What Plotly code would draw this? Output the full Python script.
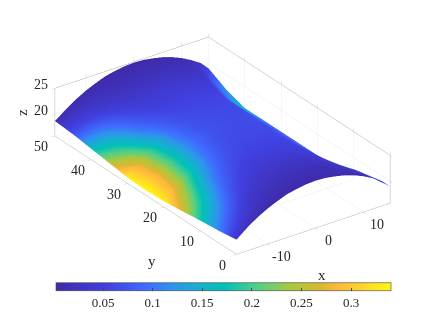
import plotly.graph_objects as go

x_vals = [-16.5,-14,-12,-10,-8,-6,-4,-2,0,2,4,6,8,10,12,14,15.6]
y_vals = [0,5,10,15,20,25,30,35,40,45,50]

z_rows = [
 [18.6,20.4,21.6,22.6,23.4,24.1,24.5,24.8,24.9,24.8,24.5,24.1,23.5,22.7,21.7,20.5,19.0],
 [18.1,20.0,21.3,22.4,23.2,23.9,24.4,24.7,24.8,24.7,24.5,24.0,23.2,22.2,21.1,19.7,18.4],
 [17.75,19.6,21.0,22.1,23.0,23.7,24.2,24.5,24.7,24.6,24.4,23.7,22.8,21.3,19.8,18.2,17.1],
 [17.3,19.2,20.65,21.8,22.8,23.55,24.1,24.4,24.55,24.5,24.3,23.6,22.4,20.7,18.8,17.0,16.2],
 [16.9,18.85,20.35,21.6,22.6,23.4,24.0,24.3,24.5,24.4,24.2,23.5,22.3,20.5,18.5,16.6,15.9],
 [16.76,18.7,20.2,21.45,22.5,23.3,23.9,24.3,24.45,24.4,24.2,23.5,22.3,20.5,18.5,16.6,15.9],
 [16.9,18.85,20.35,21.6,22.6,23.4,24.0,24.3,24.5,24.4,24.2,23.5,22.3,20.5,18.5,16.6,15.9],
 [17.4,19.25,20.65,21.8,22.8,23.55,24.1,24.4,24.55,24.45,24.2,23.5,22.3,20.5,18.5,16.6,15.9],
 [17.9,19.7,21.0,22.1,23.0,23.7,24.2,24.5,24.65,24.55,24.2,23.5,22.3,20.5,18.5,16.6,15.9],
 [18.4,20.1,21.4,22.4,23.25,23.9,24.4,24.65,24.75,24.7,24.4,23.7,22.8,21.3,19.8,18.2,17.1],
 [18.7,20.4,21.6,22.6,23.4,24.1,24.5,24.8,24.9,24.8,24.5,24.1,23.5,22.7,21.7,20.5,19.0],
]
c_rows = [
 [.030,.020,.013,.009,.007,.006,.005,.005,.004,.005,.006,.007,.009,.012,.018,.035,.060],
 [.110,.075,.052,.036,.028,.024,.021,.020,.020,.020,.021,.024,.028,.034,.045,.075,.120],
 [.180,.140,.100,.070,.052,.044,.040,.040,.040,.039,.040,.042,.047,.056,.065,.085,.120],
 [.270,.205,.150,.105,.080,.065,.057,.055,.055,.055,.054,.055,.060,.065,.070,.075,.090],
 [.330,.270,.205,.150,.105,.080,.068,.063,.062,.061,.061,.061,.066,.070,.072,.080,.090],
 [.340,.285,.220,.165,.118,.090,.075,.068,.065,.064,.064,.065,.070,.070,.072,.080,.090],
 [.330,.270,.205,.150,.105,.080,.068,.063,.062,.061,.061,.062,.067,.070,.072,.080,.090],
 [.250,.195,.145,.100,.076,.062,.056,.055,.055,.055,.055,.056,.060,.065,.070,.080,.110],
 [.160,.125,.092,.067,.050,.043,.040,.040,.040,.040,.041,.043,.048,.056,.072,.120,.170],
 [.070,.055,.042,.032,.025,.022,.021,.021,.021,.021,.022,.024,.028,.034,.045,.100,.115],
 [.012,.010,.009,.008,.007,.006,.005,.005,.004,.005,.006,.007,.009,.012,.018,.032,.055],
]
colorscale = [
 [0.00,"#3f2aa8"],[0.15,"#4040e0"],[0.27,"#3f6cff"],[0.35,"#2d96ec"],
 [0.45,"#10b6c8"],[0.50,"#00c0b8"],[0.60,"#50d088"],[0.70,"#a8c840"],
 [0.80,"#dcb830"],[0.84,"#ffb83c"],[0.90,"#ffcf30"],[1.00,"#fff70f"],
]
cbar_ticks = [0.05,0.1,0.15,0.2,0.25,0.3]
cbar_text = ["0.05","0.1","0.15","0.2","0.25","0.3"]
x_ticks = [-10, 0, 10]
y_ticks = [0, 10, 20, 30, 40, 50]
z_ticks = [20, 25]
x_range = [-16.5, 15.6]
y_range = [0, 50]
z_range = [15.8, 25.02]

FONT = "Liberation Serif"
TXT = "#262626"

fig = go.Figure(go.Surface(
    x=x_vals, y=y_vals, z=z_rows, surfacecolor=c_rows,
    colorscale=colorscale, cmin=0.0026, cmax=0.3403, hoverinfo="skip",
    lighting=dict(ambient=1, diffuse=0, specular=0, fresnel=0, roughness=1),
    colorbar=dict(orientation="h", lenmode="pixels", len=335, thicknessmode="pixels",
                  thickness=8, x=48/432, xanchor="left", y=1-306/333, yanchor="bottom",
                  xpad=0, ypad=0, outlinewidth=0.6, outlinecolor="#444",
                  tickvals=cbar_ticks, ticktext=cbar_text, ticks="inside", ticklen=3,
                  tickwidth=0.6, tickcolor="#444",
                  tickfont=dict(family=FONT, size=13, color=TXT)),
))

def ax(rng, ticks):
    return dict(range=rng, autorange=False, tickvals=ticks, showticklabels=False,
                title=dict(text=""), showbackground=False, showspikes=False,
                showgrid=True, gridcolor="#ececec", gridwidth=1,
                showline=True, linecolor="#b0b0b0", linewidth=1, mirror="all",
                zeroline=False, ticks="outside", ticklen=4, tickcolor="#c8c8c8")

def tick(x, y, z, label, dx, dy):
    return dict(x=x, y=y, z=z, text=label, showarrow=False, xshift=dx, yshift=-dy,
                xanchor="center", yanchor="middle",
                font=dict(family=FONT, size=14, color=TXT))

scene_notes = (
    [tick(t, y_range[0], z_range[0], str(t), 13, 13) for t in x_ticks]
    + [tick(x_range[0], t, z_range[0], str(t), -14, 11) for t in y_ticks]
    + [tick(x_range[0], y_range[1], t, str(t), -14, -4) for t in z_ticks]
)

c = 1.8
S = 1.303
cz = -0.057
fig.update_layout(
    width=432, height=333, margin=dict(l=0, r=0, t=0, b=0, autoexpand=False),
    paper_bgcolor="white", showlegend=False,
    scene=dict(
        domain=dict(x=[0.01, 0.985], y=[0.13, 1.0]),
        xaxis=ax(x_range, x_ticks),
        yaxis=ax(y_range, y_ticks),
        zaxis=ax(z_range, z_ticks),
        aspectmode="manual", aspectratio=dict(x=1*S, y=1.652*S, z=0.286*S),
        camera=dict(projection=dict(type="orthographic"), up=dict(x=0, y=0, z=1),
                    center=dict(x=0, y=0, z=cz),
                    eye=dict(x=-0.515*c, y=-0.72*c, z=0.466*c+cz)),
        annotations=scene_notes,
    ),
    annotations=[
        dict(text="z", x=14/432, y=1-105/333, xref="paper", yref="paper", showarrow=False,
             xanchor="center", yanchor="middle",
             textangle=-90, font=dict(family=FONT, size=15, color=TXT)),
        dict(text="y", x=144/432, y=1-253/333, xref="paper", yref="paper", showarrow=False,
             xanchor="center", yanchor="middle",
             font=dict(family=FONT, size=15, color=TXT)),
        dict(text="x", x=314/432, y=1-267/333, xref="paper", yref="paper", showarrow=False,
             xanchor="center", yanchor="middle",
             font=dict(family=FONT, size=15, color=TXT)),
    ],
)
fig.write_html("out.html")
